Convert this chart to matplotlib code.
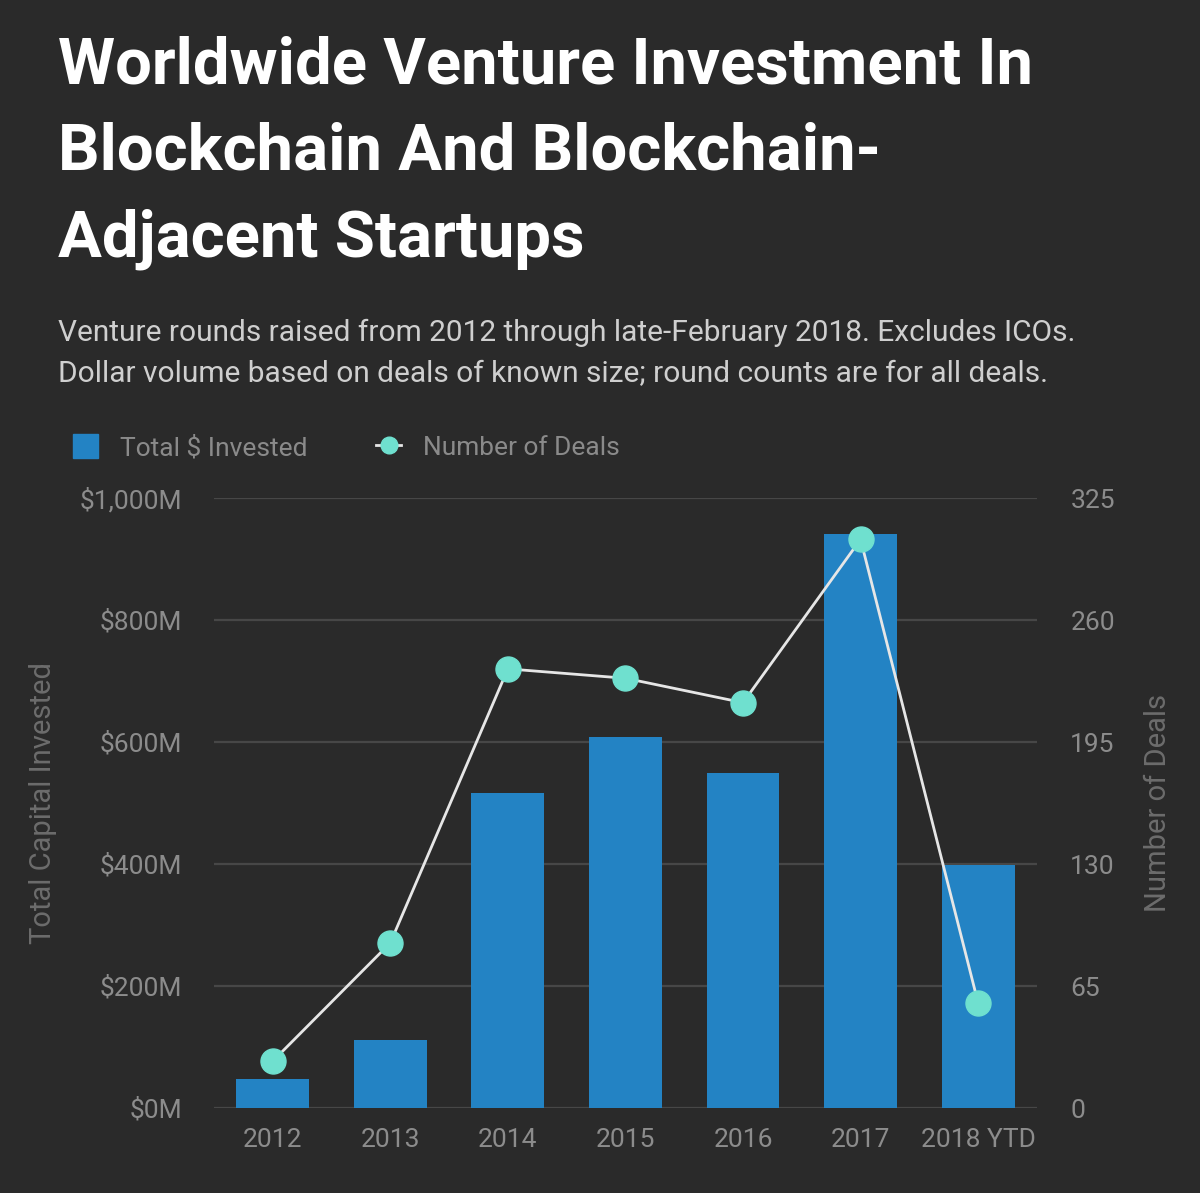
import matplotlib
matplotlib.use("Agg")
import matplotlib.pyplot as plt
from matplotlib.patches import Patch
from matplotlib.lines import Line2D

years = ["2012", "2013", "2014", "2015", "2016", "2017", "2018 YTD"]
invested_m = [47, 111, 516, 608, 549, 941, 398]
deals = [25, 88, 234, 229, 216, 303, 56]
left_ticks = [0, 200, 400, 600, 800, 1000]
left_labels = ["$0M", "$200M", "$400M", "$600M", "$800M", "$1,000M"]
right_ticks = [0, 65, 130, 195, 260, 325]

BG = "#2a2a2a"
BAR = "#2383c4"
MARK = "#6fe0cf"
LINE = "#e6e6e6"
GRID = "#474747"
TICK = "#8c8c8c"

plt.rcParams["font.family"] = ["Roboto", "DejaVu Sans"]

fig = plt.figure(figsize=(12, 11.93), dpi=100, facecolor=BG)
ax = fig.add_axes([0.1783, 0.0712, 0.6858, 0.5113])
ax.set_facecolor(BG)
x = list(range(len(years)))
ax.bar(x, invested_m, width=0.62, color=BAR, zorder=2)
ax.set_xlim(-0.5, len(years) - 0.5)
ax.set_ylim(0, 1000)
ax.set_yticks(left_ticks)
ax.set_yticklabels([l.replace("$", r"\$") for l in left_labels])
ax.set_xticks(x)
ax.set_xticklabels(years)
for s in ax.spines.values():
    s.set_visible(False)
ax.tick_params(axis="both", length=0, colors=TICK, labelsize=19)
ax.tick_params(axis="y", pad=23)
ax.tick_params(axis="x", pad=14)
ax.grid(axis="y", color=GRID, linewidth=1.6, zorder=0)
ax.set_axisbelow(True)
ax.set_ylabel("Total Capital Invested", color="#6c6c6c", fontsize=21, labelpad=16)

ax2 = ax.twinx()
ax2.set_ylim(0, 325)
ax2.set_yticks(right_ticks)
ax2.set_yticklabels([str(t) for t in right_ticks])
for s in ax2.spines.values():
    s.set_visible(False)
ax2.tick_params(axis="y", length=0, colors=TICK, labelsize=19, pad=24)
ax2.plot(x, deals, color=LINE, linewidth=2.0, marker="o", markersize=18,
         markerfacecolor=MARK, markeredgecolor=MARK, zorder=3)
ax2.set_ylabel("Number of Deals", color="#6c6c6c", fontsize=21, labelpad=21)

fig.text(0.048, 0.9705, "Worldwide Venture Investment In\nBlockchain And Blockchain-\nAdjacent Startups",
         color="white", fontsize=47, fontweight="bold", va="top", ha="left", linespacing=1.53)
fig.text(0.048, 0.7325, "Venture rounds raised from 2012 through late-February 2018. Excludes ICOs.\n"
         "Dollar volume based on deals of known size; round counts are for all deals.",
         color="#cfcfcf", fontsize=21.5, va="top", ha="left", linespacing=1.58)

handles = [Patch(facecolor=BAR, edgecolor=BAR),
           Line2D([0], [0], color=LINE, linewidth=2, marker="o", markersize=12,
                  markerfacecolor=MARK, markeredgecolor=MARK)]
leg = fig.legend(handles, [r"Total \$ Invested", "Number of Deals"], loc="center left",
                 bbox_to_anchor=(0.0608, 0.625), ncol=2, frameon=False, fontsize=19,
                 labelcolor="#8a8a8a", handlelength=0.95, handleheight=1.0,
                 columnspacing=2.6, handletextpad=0.83, borderpad=0, borderaxespad=0)

fig.savefig("out.png", dpi=100, facecolor=BG)
